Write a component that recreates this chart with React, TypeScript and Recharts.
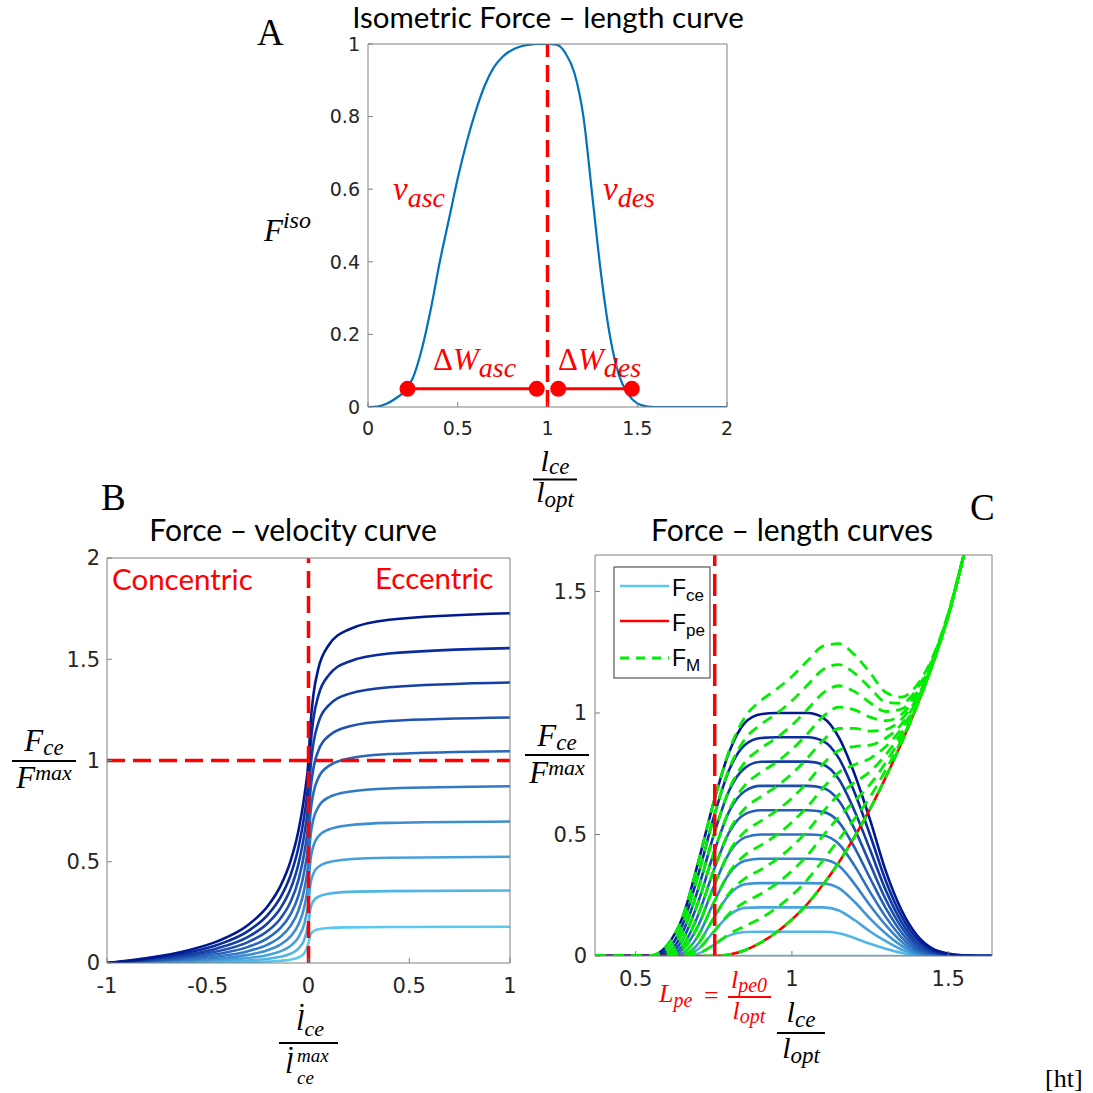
import React from "react";
import { LineChart, Line, XAxis, YAxis } from "recharts";

// ---- Panel A: isometric force-length curve ----
const isoX = [0, 0.05, 0.1, 0.15, 0.2, 0.25, 0.3, 0.35, 0.4, 0.45, 0.5, 0.55, 0.6, 0.65, 0.7, 0.75, 0.8, 0.85, 0.9, 0.95, 1, 1.05, 1.1, 1.15, 1.2, 1.25, 1.3, 1.35, 1.4, 1.45, 1.5, 1.55, 1.6, 1.8, 2];
const isoF = [0, 0.001, 0.008, 0.022, 0.042, 0.08, 0.16, 0.27, 0.4, 0.515, 0.63, 0.73, 0.815, 0.885, 0.935, 0.965, 0.983, 0.993, 0.998, 1, 1, 0.998, 0.975, 0.92, 0.8, 0.58, 0.36, 0.19, 0.085, 0.035, 0.01, 0.002, 0, 0, 0];
const optLen = 1;
const dwAscX = [0.22, 0.94];
const dwDesX = [1.06, 1.47];
const dwLevel = 0.05;

// ---- Panel B: force-velocity curves (activation 0.1 .. 1) ----
const fvX = [-1, -0.8, -0.6, -0.45, -0.3, -0.2, -0.14, -0.09, -0.05, -0.02, 0, 0.01, 0.025, 0.05, 0.1, 0.2, 0.4, 1];
const fv1 = [0, 0.0005, 0.0013, 0.0023, 0.0044, 0.0073, 0.0108, 0.0165, 0.0271, 0.049, 0.1, 0.14, 0.157, 0.167, 0.173, 0.176, 0.178, 0.179];
const fv2 = [0, 0.0014, 0.0038, 0.0069, 0.0127, 0.0209, 0.0304, 0.0455, 0.0713, 0.1176, 0.2, 0.271, 0.307, 0.328, 0.342, 0.351, 0.355, 0.358];
const fv3 = [0, 0.0029, 0.0075, 0.0135, 0.0247, 0.04, 0.0573, 0.084, 0.1267, 0.196, 0.3, 0.392, 0.443, 0.476, 0.498, 0.512, 0.52, 0.525];
const fv4 = [0, 0.0047, 0.0123, 0.022, 0.04, 0.064, 0.0905, 0.13, 0.19, 0.28, 0.4, 0.511, 0.58, 0.626, 0.659, 0.68, 0.692, 0.699];
const fv5 = [0, 0.007, 0.0182, 0.0324, 0.0583, 0.0923, 0.129, 0.182, 0.259, 0.3675, 0.5, 0.628, 0.712, 0.772, 0.818, 0.846, 0.862, 0.873];
const fv6 = [0, 0.0097, 0.0251, 0.0444, 0.0795, 0.1244, 0.172, 0.2389, 0.3325, 0.4573, 0.6, 0.742, 0.842, 0.916, 0.973, 1.01, 1.032, 1.046];
const fv7 = [0, 0.0127, 0.0329, 0.0581, 0.1032, 0.16, 0.2189, 0.2998, 0.4092, 0.5488, 0.7, 0.851, 0.964, 1.051, 1.121, 1.168, 1.195, 1.212];
const fv8 = [0, 0.0162, 0.0417, 0.0733, 0.1292, 0.1986, 0.2692, 0.364, 0.4885, 0.6415, 0.8, 0.962, 1.088, 1.19, 1.272, 1.329, 1.362, 1.385];
const fv9 = [0, 0.02, 0.0514, 0.09, 0.1575, 0.24, 0.3225, 0.431, 0.57, 0.735, 0.9, 1.071, 1.209, 1.324, 1.421, 1.488, 1.528, 1.555];
const fv10 = [0, 0.0242, 0.062, 0.108, 0.1878, 0.2839, 0.3784, 0.5005, 0.6531, 0.8293, 1, 1.179, 1.329, 1.458, 1.569, 1.647, 1.695, 1.727];
const fvCurves = [fv1, fv2, fv3, fv4, fv5, fv6, fv7, fv8, fv9, fv10];

// ---- Panel C: force-length curves (activation 0 .. 1) ----
const flX = [0.37, 0.5, 0.55, 0.6, 0.65, 0.7, 0.75, 0.8, 0.85, 0.9, 0.95, 1, 1.05, 1.1, 1.15, 1.2, 1.25, 1.3, 1.35, 1.4, 1.45, 1.5, 1.55, 1.6, 1.65];
const fce0 = [0, 0, 0, 0, 0, 0, 0, 0, 0, 0, 0, 0, 0, 0, 0, 0, 0, 0, 0, 0, 0, 0, 0, 0, 0];
const fce1 = [0, 0, 0, 0, 0, 0.01, 0.046, 0.085, 0.099, 0.1, 0.1, 0.1, 0.1, 0.1, 0.094, 0.074, 0.05, 0.03, 0.013, 0.001, 0, 0, 0, 0, 0];
const fce2 = [0, 0, 0, 0, 0.002, 0.028, 0.1, 0.169, 0.198, 0.2, 0.2, 0.2, 0.2, 0.2, 0.187, 0.148, 0.101, 0.061, 0.027, 0.004, 0.001, 0, 0, 0, 0];
const fce3 = [0, 0, 0, 0, 0.004, 0.05, 0.157, 0.254, 0.295, 0.3, 0.3, 0.3, 0.3, 0.299, 0.279, 0.223, 0.154, 0.093, 0.043, 0.008, 0.002, 0, 0, 0, 0];
const fce4 = [0, 0, 0, 0, 0.013, 0.083, 0.22, 0.34, 0.392, 0.4, 0.4, 0.4, 0.4, 0.397, 0.371, 0.297, 0.208, 0.127, 0.06, 0.014, 0.004, 0.001, 0, 0, 0];
const fce5 = [0, 0, 0, 0, 0.027, 0.124, 0.286, 0.425, 0.488, 0.5, 0.5, 0.5, 0.5, 0.496, 0.461, 0.372, 0.263, 0.161, 0.078, 0.022, 0.007, 0.002, 0, 0, 0];
const fce6 = [0, 0, 0, 0.002, 0.042, 0.169, 0.353, 0.511, 0.584, 0.6, 0.6, 0.6, 0.6, 0.593, 0.551, 0.447, 0.32, 0.197, 0.098, 0.031, 0.01, 0.003, 0.001, 0, 0];
const fce7 = [0, 0, 0, 0.007, 0.066, 0.221, 0.424, 0.597, 0.679, 0.7, 0.7, 0.7, 0.7, 0.691, 0.639, 0.523, 0.378, 0.233, 0.119, 0.042, 0.014, 0.005, 0.001, 0, 0];
const fce8 = [0, 0, 0, 0.011, 0.096, 0.276, 0.498, 0.683, 0.774, 0.799, 0.8, 0.8, 0.8, 0.788, 0.727, 0.598, 0.437, 0.271, 0.141, 0.055, 0.019, 0.006, 0.001, 0, 0];
const fce9 = [0, 0, 0, 0.025, 0.128, 0.333, 0.571, 0.768, 0.869, 0.897, 0.9, 0.9, 0.9, 0.884, 0.814, 0.674, 0.498, 0.31, 0.165, 0.069, 0.024, 0.008, 0.002, 0, 0];
const fce10 = [0, 0, 0.002, 0.043, 0.159, 0.385, 0.634, 0.842, 0.96, 0.995, 1, 1, 1, 0.98, 0.9, 0.75, 0.56, 0.35, 0.19, 0.085, 0.03, 0.01, 0.002, 0, 0];
const fceCurves = [fce0, fce1, fce2, fce3, fce4, fce5, fce6, fce7, fce8, fce9, fce10];
const fpe = [0, 0, 0, 0, 0, 0, 0, 0.006, 0.024, 0.055, 0.097, 0.15, 0.215, 0.295, 0.385, 0.49, 0.605, 0.735, 0.875, 1.03, 1.2, 1.4, 1.65, 1.92, 2.2];
const lpe0 = 0.753;

// colours
const RED = "#FF0000";
const GREEN = "#00EE00";
const BLUE_A = "#0072BD";
const AX = "#808080";
const fvColors = ["#5AC8F0", "#50B5E5", "#46A1DB", "#3C8ED0", "#327AC6", "#2867BB", "#1E53B1", "#1440A6", "#0A2C9C", "#001991"];
const flColors = ["#5AC8F0", "#51B7E6", "#48A5DD", "#3F94D4", "#3682CA", "#2D71C1", "#245FB7", "#1B4EAE", "#123CA4", "#092B9B", "#001991"];

const SERIF = "'Liberation Serif', 'Times New Roman', serif";
const SANS = "Lato, sans-serif";
const ARIAL = "'Liberation Sans', Arial, sans-serif";

const pts = (xs: number[], ys: number[]) => xs.map((x, i) => ({ x, y: ys[i] }));

const tickFont = (fs: number) => ({ fill: "#262626", fontSize: fs, fontFamily: "'DejaVu Sans', sans-serif" });

// box frame with inward ticks on all four sides (matlab look)
function boxAxes(xd: number[], yd: number[], xt: number[], yt: number[], fs: number, xm: number, ym: number, xh: number, yw: number) {
  return [
    <XAxis key="xb" type="number" dataKey="x" domain={xd} ticks={xt} interval={0} allowDataOverflow height={xh} stroke={AX} tickSize={-5} tickMargin={xm} tick={tickFont(fs)} />,
    <XAxis key="xt" xAxisId="top" orientation="top" type="number" dataKey="x" domain={xd} ticks={xt} interval={0} allowDataOverflow height={1} stroke={AX} tickSize={-5} tick={false} />,
    <YAxis key="yl" type="number" dataKey="y" domain={yd} ticks={yt} interval={0} allowDataOverflow width={yw} stroke={AX} tickSize={-5} tickMargin={ym} tick={tickFont(fs)} />,
    <YAxis key="yr" yAxisId="right" orientation="right" type="number" dataKey="y" domain={yd} ticks={yt} interval={0} allowDataOverflow width={1} stroke={AX} tickSize={-5} tick={false} />,
  ];
}

const PanelA = () => (
  <LineChart width={429} height={423} margin={{ top: 19, right: 9, bottom: 0, left: 0 }}>
    {boxAxes([0, 2], [0, 1], [0, 0.5, 1, 1.5, 2], [0, 0.2, 0.4, 0.6, 0.8, 1], 19, 20, 13, 40, 60)}
    <Line type="monotone" data={pts(isoX, isoF)} dataKey="y" stroke={BLUE_A} strokeWidth={2.2} dot={false} isAnimationActive={false} />
    <Line type="linear" data={pts([optLen, optLen], [0, 1])} dataKey="y" stroke={RED} strokeWidth={3.5} strokeDasharray="17 8" dot={false} isAnimationActive={false} />
    <Line type="linear" data={pts(dwAscX, [dwLevel, dwLevel])} dataKey="y" stroke={RED} strokeWidth={3} dot={{ r: 6.5, fill: RED, stroke: RED }} isAnimationActive={false} />
    <Line type="linear" data={pts(dwDesX, [dwLevel, dwLevel])} dataKey="y" stroke={RED} strokeWidth={3} dot={{ r: 6.5, fill: RED, stroke: RED }} isAnimationActive={false} />
  </LineChart>
);

const PanelB = () => (
  <LineChart width={483} height={470} margin={{ top: 19, right: 9, bottom: 0, left: 0 }}>
    {boxAxes([-1, 1], [0, 2], [-1, -0.5, 0, 0.5, 1], [0, 0.5, 1, 1.5, 2], 21, 20, 12, 45, 70)}
    {fvCurves.map((c, i) => (
      <Line key={"fv" + i} type="monotone" data={pts(fvX, c)} dataKey="y" stroke={fvColors[i]} strokeWidth={2.6} dot={false} isAnimationActive={false} />
    ))}
    <Line type="linear" data={pts([0, 0], [0, 2])} dataKey="y" stroke={RED} strokeWidth={3.5} strokeDasharray="17 8" dot={false} isAnimationActive={false} />
    <Line type="linear" data={pts([-1, 1], [1, 1])} dataKey="y" stroke={RED} strokeWidth={3.5} strokeDasharray="18 8" dot={false} isAnimationActive={false} />
  </LineChart>
);

const PanelC = () => (
  <LineChart width={477} height={466} margin={{ top: 19, right: 9, bottom: 0, left: 0 }}>
    {boxAxes([0.37, 1.64], [0, 1.65], [0.5, 1, 1.5], [0, 0.5, 1, 1.5], 21, 20, 13, 45, 70)}
    {fceCurves.map((c, i) => (
      <Line key={"fce" + i} type="monotone" data={pts(flX, c)} dataKey="y" stroke={flColors[i]} strokeWidth={2.6} dot={false} isAnimationActive={false} />
    ))}
    <Line type="monotone" data={pts(flX, fpe)} dataKey="y" stroke={RED} strokeWidth={2.6} dot={false} isAnimationActive={false} />
    {fceCurves.map((c, i) => (
      <Line key={"fm" + i} type="monotone" data={pts(flX, c.map((v, j) => v + fpe[j]))} dataKey="y" stroke={GREEN} strokeWidth={2.8} strokeDasharray="11 7" dot={false} isAnimationActive={false} />
    ))}
    <Line type="linear" data={pts([lpe0, lpe0], [0, 1.65])} dataKey="y" stroke={RED} strokeWidth={3.5} strokeDasharray="22 8" dot={false} isAnimationActive={false} />
  </LineChart>
);

const Labels = () => (
  <svg width={1093} height={1093} style={{ position: "absolute", left: 0, top: 0, pointerEvents: "none" }}>
    {/* titles */}
    <text x={548} y={28} textAnchor="middle" fontFamily={SANS} fontSize={29.5} fill="#000">Isometric Force – length curve</text>
    <text x={293} y={541} textAnchor="middle" fontFamily={SANS} fontSize={30} fill="#000">Force – velocity curve</text>
    <text x={792} y={541} textAnchor="middle" fontFamily={SANS} fontSize={30} fill="#000">Force – length curves</text>

    {/* panel letters */}
    <text x={257} y={45} fontFamily={SERIF} fontSize={37} fill="#000">A</text>
    <text x={101} y={510} fontFamily={SERIF} fontSize={37} fill="#000">B</text>
    <text x={970} y={520} fontFamily={SERIF} fontSize={37} fill="#000">C</text>
    <text x={1045} y={1087} fontFamily={SERIF} fontSize={26} fill="#000">[ht]</text>

    {/* panel A annotations */}
    <g fontFamily={SERIF} fontStyle="italic" fill={RED}>
      <text x={393} y={200} fontSize={33}>v<tspan fontSize={28} dy={7}>asc</tspan></text>
      <text x={603} y={200} fontSize={33}>v<tspan fontSize={28} dy={7}>des</tspan></text>
      <text x={433} y={370} fontSize={31}><tspan fontStyle="normal">Δ</tspan>W<tspan fontSize={28} dy={7}>asc</tspan></text>
      <text x={558} y={370} fontSize={31}><tspan fontStyle="normal">Δ</tspan>W<tspan fontSize={28} dy={7}>des</tspan></text>
    </g>
    <g fontFamily={SERIF} fontStyle="italic" fill="#000">
      <text x={264} y={241} fontSize={31}>F<tspan fontSize={24} dy={-13}>iso</tspan></text>
      {/* A x label */}
      <text x={555} y={471} textAnchor="middle" fontSize={30}>l<tspan fontSize={23} dy={3}>ce</tspan></text>
      <line x1={533} x2={577} y1={479.5} y2={479.5} stroke="#000" strokeWidth={2} />
      <text x={555} y={502} textAnchor="middle" fontSize={30}>l<tspan fontSize={23} dy={5}>opt</tspan></text>

      {/* B y label */}
      <text x={44} y={751} textAnchor="middle" fontSize={31}>F<tspan fontSize={23} dy={4}>ce</tspan></text>
      <line x1={12} x2={76} y1={761} y2={761} stroke="#000" strokeWidth={2} />
      <text x={44} y={788} textAnchor="middle" fontSize={31}>F<tspan fontSize={22} dy={-8}>max</tspan></text>

      {/* B x label */}
      <text x={310} y={1030} textAnchor="middle" fontSize={30}>l̇<tspan fontSize={22} dy={6}>ce</tspan></text>
      <line x1={279} x2={338} y1={1043} y2={1043} stroke="#000" strokeWidth={2} />
      <text x={285} y={1073} fontSize={30}>l̇</text>
      <text x={297} y={1062} fontSize={19}>max</text>
      <text x={297} y={1084} fontSize={19}>ce</text>

      {/* C y label */}
      <text x={557} y={746} textAnchor="middle" fontSize={31}>F<tspan fontSize={23} dy={4}>ce</tspan></text>
      <line x1={525} x2={589} y1={755} y2={755} stroke="#000" strokeWidth={2} />
      <text x={557} y={783} textAnchor="middle" fontSize={31}>F<tspan fontSize={22} dy={-8}>max</tspan></text>

      {/* C x label */}
      <text x={801} y={1022} textAnchor="middle" fontSize={30}>l<tspan fontSize={23} dy={5}>ce</tspan></text>
      <line x1={777} x2={825} y1={1033} y2={1033} stroke="#000" strokeWidth={2} />
      <text x={801} y={1058} textAnchor="middle" fontSize={30}>l<tspan fontSize={23} dy={5}>opt</tspan></text>
    </g>

    {/* L_pe label */}
    <g fontFamily={SERIF} fontStyle="italic" fill={RED}>
      <text x={659} y={1002} fontSize={26}>L<tspan fontSize={20} dy={5}>pe</tspan></text>
      <text x={704} y={1004} fontSize={26} fontStyle="normal">=</text>
      <text x={749} y={988} textAnchor="middle" fontSize={26}>l<tspan fontSize={20} dy={4}>pe0</tspan></text>
      <line x1={728} x2={771} y1={997} y2={997} stroke={RED} strokeWidth={2} />
      <text x={749} y={1019} textAnchor="middle" fontSize={26}>l<tspan fontSize={20} dy={4}>opt</tspan></text>
    </g>

    {/* B region labels */}
    <text x={112} y={590} fontFamily={SANS} fontSize={29.5} fill={RED}>Concentric</text>
    <text x={375} y={589} fontFamily={SANS} fontSize={29.5} fill={RED}>Eccentric</text>

    {/* C legend */}
    <rect x={614} y={567} width={96} height={111} fill="#fff" stroke="#555" strokeWidth={1.2} />
    <line x1={620} x2={669} y1={586} y2={586} stroke={flColors[0]} strokeWidth={2.5} />
    <line x1={620} x2={669} y1={621} y2={621} stroke={RED} strokeWidth={2.5} />
    <line x1={620} x2={669} y1={658} y2={658} stroke={GREEN} strokeWidth={2.8} strokeDasharray="9 7" />
    <g fontFamily={ARIAL} fill="#000">
      <text x={672} y={596} fontSize={23}>F<tspan fontSize={17} dy={5}>ce</tspan></text>
      <text x={672} y={631} fontSize={23}>F<tspan fontSize={17} dy={5}>pe</tspan></text>
      <text x={672} y={666} fontSize={23}>F<tspan fontSize={17} dy={5}>M</tspan></text>
    </g>
  </svg>
);

export default function App() {
  return (
    <div style={{ position: "absolute", left: 0, top: 0, width: 1093, height: 1093, background: "#fff", overflow: "hidden" }}>
      <div style={{ position: "absolute", left: 308, top: 24 }}>
        <PanelA />
      </div>
      <div style={{ position: "absolute", left: 37, top: 538 }}>
        <PanelB />
      </div>
      <div style={{ position: "absolute", left: 525, top: 535 }}>
        <PanelC />
      </div>
      <Labels />
    </div>
  );
}
